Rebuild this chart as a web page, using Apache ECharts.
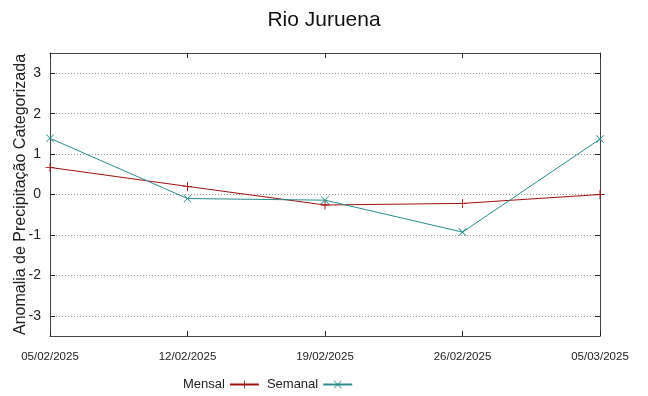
<!DOCTYPE html>
<html><head><meta charset="utf-8">
<script src="https://cdn.jsdelivr.net/npm/echarts@6/dist/echarts.min.js"></script>
<style>html,body{margin:0;padding:0;background:#fff}#c{width:648px;height:396px}</style>
</head><body><div id="c"></div>
<script>
const dates = ['05/02/2025','12/02/2025','19/02/2025','26/02/2025','05/03/2025'];
const mensal = [0.67, 0.2, -0.26, -0.22, 0.0];
const semanal = [1.39, -0.1, -0.14, -0.93, 1.37];
const yTicks = [-3,-2,-1,0,1,2,3];
const yMin = -3.5, yMax = 3.5;

const red = '#a01010', teal = '#2a8c8c';
const plusPath = 'path://M0,4.5h10v1h-10zM4.5,0h1v10h-1z';
const crossPath = 'path://M0,0.7L0.7,0L10,9.3L9.3,10ZM9.3,0L10,0.7L0.7,10L0,9.3Z';
const axisCol = '#444';
const narrow = '"Liberation Sans Narrow", "Liberation Sans", Arial, sans-serif';
const sans = '"Liberation Sans", Arial, sans-serif';

const chart = echarts.init(document.getElementById('c'), null, {renderer:'canvas'});
chart.setOption({
  animation:false,
  backgroundColor:'#fff',
  title:{text:'Rio Juruena', left:'center', top:5, textStyle:{fontFamily:sans, fontSize:21, fontWeight:'normal', color:'#111'}},
  legend:{left:178, top:373, align:'right', itemWidth:29, itemHeight:10, itemGap:7,
    textStyle:{fontFamily:narrow, fontSize:13, color:'#222'},
    data:['Mensal','Semanal']},
  grid:{left:50, right:48, top:53, bottom:60, containLabel:false, outerBoundsMode:'none'},
  xAxis:[{type:'category', data:dates, boundaryGap:false,
      axisLine:{onZero:false, lineStyle:{color:axisCol, width:1}},
      axisTick:{inside:true, length:5, lineStyle:{color:'#222'}},
      axisLabel:{fontFamily:narrow, fontSize:11.5, color:'#222', margin:15, interval:0},
      splitLine:{show:false}},
    {type:'category', data:dates, boundaryGap:false, position:'top',
      axisLine:{onZero:false, lineStyle:{color:axisCol, width:1}},
      axisTick:{inside:true, length:5, lineStyle:{color:'#222'}},
      axisLabel:{show:false}, splitLine:{show:false}}],
  yAxis:[{type:'value', min:yMin, max:yMax,
      name:'Anomalia de Precipitação Categorizada', nameLocation:'middle', nameGap:21, nameMoveOverlap:false,
      nameTextStyle:{fontFamily:sans, fontSize:16, color:'#222'},
      axisLine:{show:true, onZero:false, lineStyle:{color:axisCol, width:1}},
      axisTick:{show:true, inside:true, length:5, customValues:yTicks, lineStyle:{color:'#222'}},
      axisLabel:{fontFamily:sans, fontSize:14, color:'#222', margin:9, customValues:yTicks},
      splitLine:{show:true, lineStyle:{color:'#999', type:[1,2], width:1}}},
    {type:'value', min:yMin, max:yMax, position:'right',
      axisLine:{show:true, onZero:false, lineStyle:{color:axisCol, width:1}},
      axisTick:{show:true, inside:true, length:5, customValues:yTicks, lineStyle:{color:'#222'}},
      axisLabel:{show:false, customValues:yTicks}, splitLine:{show:false}}],
  series:[
    {name:'Mensal', type:'line', data:mensal, symbol:plusPath, symbolSize:9, showAllSymbol:true,
      color:red, lineStyle:{color:red, width:1}, itemStyle:{color:red}, z:3},
    {name:'Semanal', type:'line', data:semanal, symbol:crossPath, symbolSize:8, showAllSymbol:true,
      color:teal, lineStyle:{color:teal, width:1}, itemStyle:{color:teal}, z:4}
  ]
});
</script></body></html>
